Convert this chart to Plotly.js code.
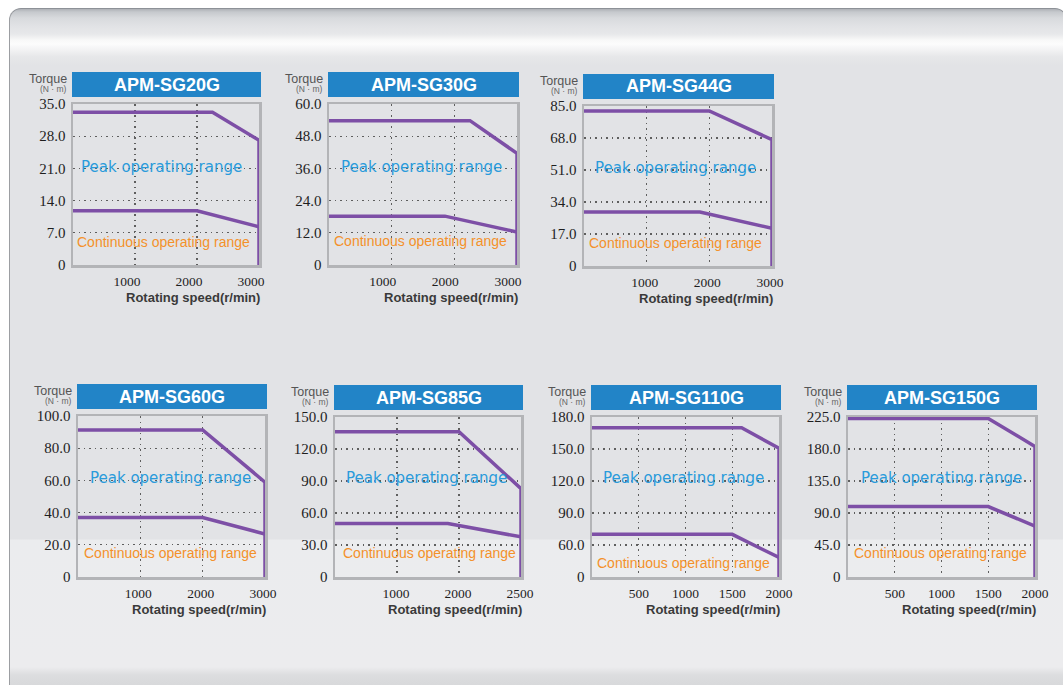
<!DOCTYPE html>
<html>
<head>
<meta charset="utf-8">
<script src="https://cdn.plot.ly/plotly-3.0.1.min.js"></script>
<style>
  html, body { margin:0; padding:0; background:#ffffff; width:1063px; height:685px; overflow:hidden; }
  #panel {
    position:absolute; left:9px; top:8px; width:1056px; height:690px;
    border-top:1px solid #8d9197; border-left:1px solid #9c9ea2; border-right:1px solid #9c9ea2;
    border-radius:12px 12px 0 0;
    background: linear-gradient(to bottom,
      #aeb1b6 0px, #c6c9cd 3px, #d8dadd 9px, #e2e3e6 18px, #e7e8ea 25px,
      #f8f8f8 31px, #fcfcfc 35px, #f2f2f3 41px, #e6e7e9 48px, #e2e3e6 56px,
      #e2e3e6 530px, #ebecee 531px, #ececee 658px, #dcdddf 666px, #d2d3d5 690px);
  }
  #chart { position:absolute; left:0; top:0; width:1063px; height:685px; }
</style>
</head>
<body>
<div id="panel"></div>
<div id="chart"></div>
<script>
// ---------------- data ----------------
const models = ['APM-SG20G','APM-SG30G','APM-SG44G','APM-SG60G','APM-SG85G','APM-SG110G','APM-SG150G'];

const speedTicks = [
  [0,1000,2000,3000],
  [0,1000,2000,3000],
  [0,1000,2000,3000],
  [0,1000,2000,3000],
  [0,1000,2000,2500],
  [0,500,1000,1500,2000],
  [0,500,1000,1500,2000]
];
const torqueTicks = [
  [0,7,14,21,28,35],
  [0,12,24,36,48,60],
  [0,17,34,51,68,85],
  [0,20,40,60,80,100],
  [0,30,60,90,120,150],
  [0,60,90,120,150,180],
  [0,45,90,135,180,225]
];

const peakSpeed = [
  [0,2250,3000,3000],
  [0,2250,3000,3000],
  [0,2000,3000,3000],
  [0,2000,3000,3000],
  [0,2000,2500,2500],
  [0,1600,2000,2000],
  [0,1500,2000,2000]
];
const peakTorque = [
  [33.2,33.2,27.1,0],
  [53.8,53.8,41.6,0],
  [82.4,82.4,67.1,0],
  [91.3,91.3,58.9,0],
  [136.2,136.2,82.8,0],
  [170.0,170.0,150.7,0],
  [222.9,222.9,183.6,0]
];
const contSpeed = [
  [0,2000,3000],
  [0,1850,3000],
  [0,1850,3000],
  [0,2000,3000],
  [0,1820,2500],
  [0,1500,2000],
  [0,1500,2000]
];
const contTorque = [
  [11.8,11.8,8.3],
  [18.2,18.2,12.3],
  [28.7,28.7,20.0],
  [36.9,36.9,26.7],
  [50.1,50.1,37.6],
  [70.0,70.0,36.5],
  [99.1,99.1,71.5]
];

const peakLabel = 'Peak operating range';
const contLabel = 'Continuous operating range';
const torqueLabel = 'Torque';
const torqueUnit = '(N · m)';
const speedLabel = 'Rotating speed(r/min)';

// ---------------- layout / style ----------------
const W = 1063, H = 685;
const FRAMES = [
  {l:73, r:259, t:104, b:265, shift:-8},
  {l:329,r:517, t:104, b:265, shift:-9},
  {l:584,r:772, t:106, b:266, shift:-2},
  {l:78, r:265, t:416, b:577, shift:-2},
  {l:335,r:521, t:417, b:577, shift:-1},
  {l:592,r:779, t:417, b:577, shift:0},
  {l:848,r:1035,t:417, b:577, shift:0}
];
const PEAK_POS = [[161.5,166.7],[421.7,166.7],[675.5,168.3],[170,478.3],[426.7,478.3],[683.3,477.7],[941.7,478.3]];
const CONT_POS = [[163,241.7],[420.8,240.7],[675.3,243.3],[170.3,553.3],[429.3,553.3],[683,563.3],[940,553.3]];

const PURPLE = '#7d4fa6';
const BLUE_BOX = '#2284c7';
const PEAK_COLOR = '#2a9bdb';
const CONT_COLOR = '#f4912a';

function toIdx(v, ticks) {
  const n = ticks.length;
  for (let i = 0; i < n - 1; i++) {
    if (v <= ticks[i+1] || i === n - 2) {
      return i + (v - ticks[i]) / (ticks[i+1] - ticks[i]);
    }
  }
}
const px = x => x / W;
const py = y => 1 - y / H;

const traces = [];
const layout = {
  width: W, height: H,
  margin: {l:0, r:0, t:0, b:0, pad:0},
  paper_bgcolor: 'rgba(0,0,0,0)',
  plot_bgcolor: 'rgba(0,0,0,0)',
  showlegend: false,
  font: {family: 'Liberation Sans, Arial, sans-serif', color: '#333'},
  shapes: [],
  annotations: []
};

models.forEach((name, i) => {
  const k = i === 0 ? '' : String(i + 1);
  const f = FRAMES[i];
  const sT = speedTicks[i], tT = torqueTicks[i];

  const xIdx = [], xTxt = [];
  sT.forEach((v, j) => { if (j > 0) { xIdx.push(j); xTxt.push(String(v)); } });
  const yIdx = [], yTxt = [];
  tT.forEach((v, j) => { yIdx.push(j); yTxt.push(v === 0 ? '0' : v.toFixed(1)); });

  layout['xaxis' + k] = {
    domain: [px(f.l), px(f.r)],
    range: [0, sT.length - 1],
    anchor: 'y' + k,
    tickmode: 'array', tickvals: xIdx, ticktext: xTxt,
    ticks: '', showgrid: true, gridcolor: '#5e5e5e', gridwidth: 1.2, griddash: '1.5px,4px',
    showline: true, mirror: true, linecolor: '#b3b4b7', linewidth: 2.5,
    zeroline: false, layer: 'below traces',
    tickfont: {family: 'Liberation Serif, Times New Roman, serif', size: 13.5, color: '#1e1e1e'},
    ticklabelshift: f.shift, ticklabelstandoff: 2,
    fixedrange: true
  };
  layout['yaxis' + k] = {
    domain: [py(f.b), py(f.t)],
    range: [0, tT.length - 1],
    anchor: 'x' + k,
    tickmode: 'array', tickvals: yIdx, ticktext: yTxt,
    ticks: '', showgrid: true, gridcolor: '#5e5e5e', gridwidth: 1.2, griddash: '1.5px,4px',
    showline: true, mirror: true, linecolor: '#b3b4b7', linewidth: 2.5,
    zeroline: false, layer: 'below traces',
    tickfont: {family: 'Liberation Serif, Times New Roman, serif', size: 15, color: '#1e1e1e'},
    ticklabelstandoff: 2,
    fixedrange: true
  };

  traces.push({
    type: 'scatter', mode: 'lines', xaxis: 'x' + k, yaxis: 'y' + k,
    x: peakSpeed[i].map(v => toIdx(v, sT)),
    y: peakTorque[i].map(v => toIdx(v, tT)),
    line: {color: PURPLE, width: 3.5}, cliponaxis: false, hoverinfo: 'skip'
  });
  traces.push({
    type: 'scatter', mode: 'lines', xaxis: 'x' + k, yaxis: 'y' + k,
    x: contSpeed[i].map(v => toIdx(v, sT)),
    y: contTorque[i].map(v => toIdx(v, tT)),
    line: {color: PURPLE, width: 3.5}, cliponaxis: false, hoverinfo: 'skip'
  });

  // title box
  layout.shapes.push({
    type: 'rect', xref: 'paper', yref: 'paper', layer: 'below',
    x0: px(f.l - 1), x1: px(f.r + 2), y0: py(f.t - 7), y1: py(f.t - 32),
    fillcolor: BLUE_BOX, line: {width: 0}
  });
  layout.annotations.push({
    xref: 'paper', yref: 'paper', x: px((f.l + f.r + 1) / 2), y: py(f.t - 19.5),
    xanchor: 'center', yanchor: 'middle', showarrow: false,
    text: '<b>' + name + '</b>',
    font: {family: 'Liberation Sans, Arial, sans-serif', size: 18, color: '#ffffff'}
  });
  // Torque label
  layout.annotations.push({
    xref: 'paper', yref: 'paper', x: px(f.l - 4), y: py(f.t - 25),
    xanchor: 'right', yanchor: 'middle', showarrow: false,
    text: torqueLabel, font: {size: 12.5, color: '#555555'}
  });
  layout.annotations.push({
    xref: 'paper', yref: 'paper', x: px(f.l - 4), y: py(f.t - 15),
    xanchor: 'right', yanchor: 'middle', showarrow: false,
    text: torqueUnit, font: {size: 8.5, color: '#666666'}
  });
  // speed label
  layout.annotations.push({
    xref: 'paper', yref: 'paper', x: px(f.r + 3), y: py(f.b + 32),
    xanchor: 'right', yanchor: 'middle', showarrow: false,
    text: '<b>' + speedLabel + '</b>', font: {size: 13, color: '#3a3a3a'}
  });
  // range texts
  layout.annotations.push({
    xref: 'paper', yref: 'paper', x: px(PEAK_POS[i][0]), y: py(PEAK_POS[i][1]),
    xanchor: 'center', yanchor: 'middle', showarrow: false,
    text: peakLabel, font: {family: 'DejaVu Sans, sans-serif', size: 15, color: PEAK_COLOR}
  });
  layout.annotations.push({
    xref: 'paper', yref: 'paper', x: px(CONT_POS[i][0]), y: py(CONT_POS[i][1]),
    xanchor: 'center', yanchor: 'middle', showarrow: false,
    text: contLabel, font: {family: 'Liberation Sans, Arial, sans-serif', size: 14, color: CONT_COLOR}
  });
});

Plotly.newPlot('chart', traces, layout, {displayModeBar: false, staticPlot: true});
</script>
</body>
</html>
